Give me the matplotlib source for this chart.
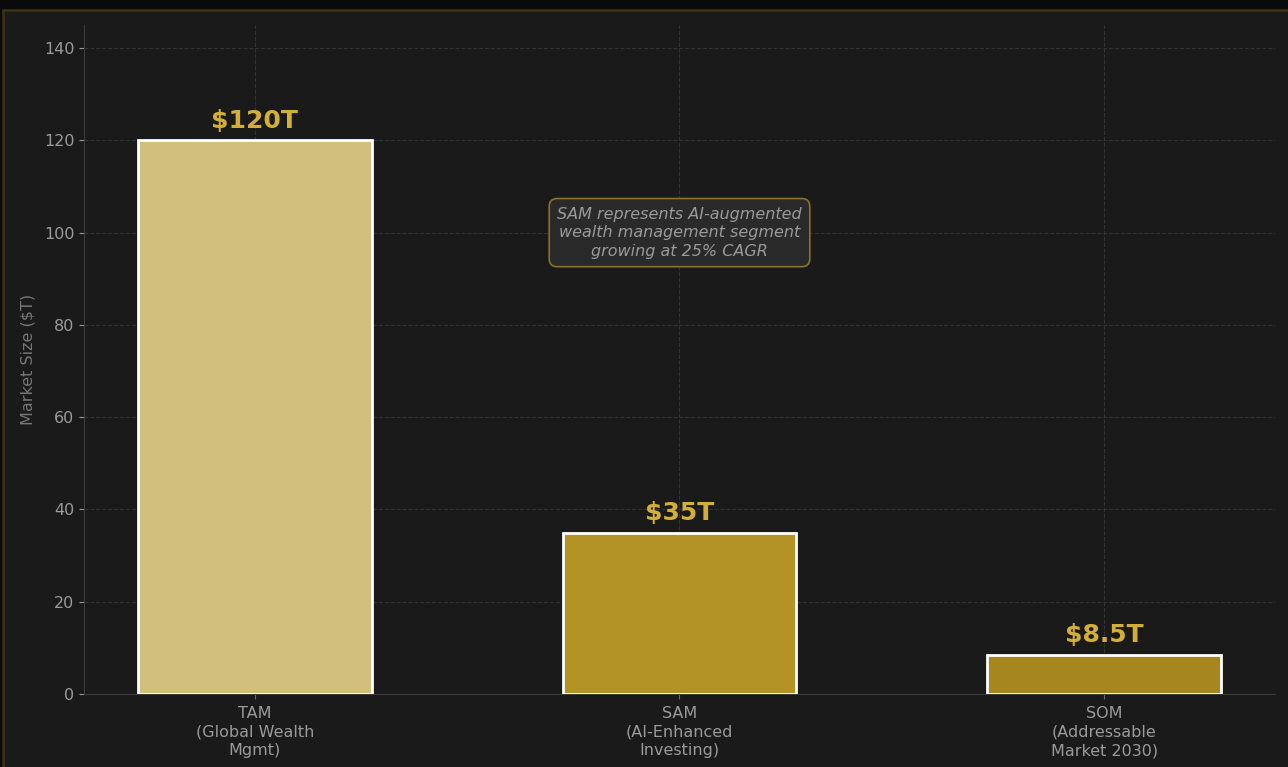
import matplotlib
matplotlib.use("Agg")
import matplotlib.pyplot as plt
from matplotlib.patches import Rectangle

plt.rcParams["font.family"] = ["DejaVu Sans"]

categories = ["TAM\n(Global Wealth\nMgmt)", "SAM\n(AI-Enhanced\nInvesting)", "SOM\n(Addressable\nMarket 2030)"]
values = [120, 35, 8.5]
value_labels = ["$120T", "$35T", "$8.5T"]
bar_colors = ["#d2bf7d", "#b39226", "#a6861f"]

fig = plt.figure(figsize=(12.88, 7.67), dpi=100, facecolor="#0a0a0a")

# panel behind the chart (cut off at right/bottom like the screenshot)
panel = Rectangle((3 / 1288, -0.05), 1.2, 1 - 10 / 767 + 0.05, transform=fig.transFigure,
                  facecolor="#1a1a1a", edgecolor="#3d3212", linewidth=1.8, zorder=-10)
fig.patches.append(panel)

ax = fig.add_axes([84 / 1288, 1 - 694 / 767, (1275 - 84) / 1288, (694 - 25) / 767])
ax.set_facecolor("#1a1a1a")

x = range(len(categories))
bars = ax.bar(x, values, width=0.55, color=bar_colors, edgecolor="white", linewidth=2, zorder=3)

for b, lab in zip(bars, value_labels):
    ax.text(b.get_x() + b.get_width() / 2, b.get_height() + 1.6, lab,
            ha="center", va="bottom", color="#d4af37", fontsize=18, fontweight="bold", zorder=4)

ax.set_ylim(0, 145)
ax.set_xticks(list(x))
ax.set_xticklabels(categories, color="#9a9a9a", fontsize=11.5, linespacing=1.3)
ax.set_yticks(range(0, 141, 20))
ax.tick_params(axis="y", colors="#9a9a9a", labelsize=11.5)
ax.tick_params(axis="x", colors="#6a6a6a", labelcolor="#9a9a9a", pad=5)
ax.set_ylabel("Market Size ($T)", color="#777777", fontsize=11.5, labelpad=6)

ax.grid(True, linestyle="--", color="#3a3a3a", linewidth=0.8, alpha=0.8, zorder=0)
ax.set_axisbelow(True)
for side in ["top", "right"]:
    ax.spines[side].set_visible(False)
for side in ["left", "bottom"]:
    ax.spines[side].set_color("#3a3a3a")

ax.text(1, 100, "SAM represents AI-augmented\nwealth management segment\ngrowing at 25% CAGR",
        ha="center", va="center", color="#9a9a9a", fontsize=11.5, style="italic", linespacing=1.3,
        bbox=dict(boxstyle="round,pad=0.5", facecolor="#2a2a2a", edgecolor="#8a7322", linewidth=1.2),
        zorder=5)

fig.savefig("out.png", dpi=100, facecolor=fig.get_facecolor())
